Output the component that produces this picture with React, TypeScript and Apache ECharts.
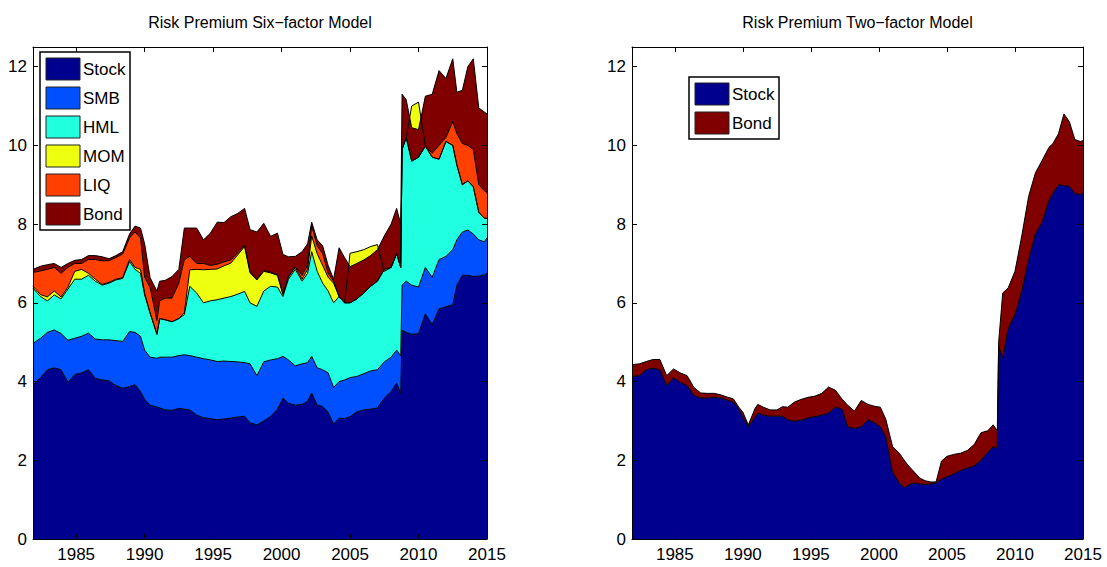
import React, { useEffect, useRef } from "react";
import * as echarts from "echarts";

// ---------- data ----------
const years = [
  1981.85, 1982.4, 1982.9, 1983.4, 1983.9, 1984.4, 1984.9, 1985.4, 1985.9, 1986.4,
  1986.9, 1987.4, 1987.9, 1988.4, 1988.9, 1989.3, 1989.7, 1990.0, 1990.4, 1990.9,
  1991.1, 1991.5, 1992.0, 1992.5, 1992.9, 1993.3, 1993.8, 1994.3, 1994.8, 1995.3,
  1995.8, 1996.3, 1996.8, 1997.3, 1997.7, 1998.2, 1998.7, 1999.2, 1999.7, 2000.1,
  2000.5, 2001.0, 2001.5, 2001.9, 2002.2, 2002.6, 2003.0, 2003.4, 2003.8, 2004.2,
  2004.6, 2005.0, 2005.5, 2006.0, 2006.5, 2007.0, 2007.5, 2008.0, 2008.4, 2008.7,
  2008.8, 2009.1, 2009.5, 2010.0, 2010.5, 2011.0, 2011.5, 2012.0, 2012.5, 2012.8,
  2013.2, 2013.6, 2014.0, 2014.4, 2014.8, 2015.0,
];

// Six-factor model contributions
const stock6 = [
  3.92, 4.1, 4.3, 4.35, 4.3, 3.98, 4.18, 4.22, 4.3, 4.08,
  4.04, 4.02, 3.9, 3.83, 3.87, 3.92, 3.75, 3.55, 3.4, 3.35,
  3.33, 3.28, 3.27, 3.32, 3.3, 3.28, 3.15, 3.08, 3.06, 3.03,
  3.05, 3.07, 3.1, 3.12, 2.95, 2.9, 3.0, 3.12, 3.3, 3.58,
  3.45, 3.4, 3.42, 3.5, 3.71, 3.4, 3.37, 3.22, 2.92, 3.07,
  3.06, 3.11, 3.23, 3.28, 3.3, 3.33, 3.58, 3.75, 3.96, 3.7,
  5.3, 5.25, 5.2, 5.22, 5.72, 5.45, 5.85, 5.9, 5.95, 6.45,
  6.7, 6.7, 6.67, 6.68, 6.71, 6.75,
];
const smb6 = [
  1.05, 1.0, 0.95, 0.96, 0.92, 1.07, 0.92, 0.93, 0.93, 1.0,
  1.02, 1.04, 1.14, 1.19, 1.4, 1.33, 1.4, 1.25, 1.22, 1.24,
  1.29, 1.34, 1.35, 1.34, 1.38, 1.38, 1.47, 1.5, 1.49, 1.48,
  1.47, 1.44, 1.4, 1.36, 1.5, 1.25, 1.5, 1.43, 1.28, 1.06,
  1.1, 1.0, 1.03, 0.98, 0.93, 0.95, 0.93, 1.0, 0.93, 0.93,
  0.98, 0.99, 0.9, 0.92, 0.97, 0.97, 0.92, 0.87, 0.84, 0.95,
  1.15, 1.3, 1.25, 1.18, 1.18, 1.2, 1.25, 1.28, 1.4, 1.15,
  1.1, 1.15, 1.08, 0.92, 0.84, 0.9,
];
const hml6 = [
  1.4, 1.06, 0.8, 0.89, 0.88, 1.3, 1.5, 1.45, 1.47, 1.47,
  1.39, 1.44, 1.54, 1.6, 1.78, 1.6, 1.6, 1.4, 1.12, 0.61,
  0.98, 0.95, 0.9, 0.94, 1.02, 1.76, 1.63, 1.42, 1.5, 1.57,
  1.6, 1.65, 1.72, 1.81, 1.55, 1.76, 1.8, 1.87, 1.82, 1.52,
  2.05, 2.45, 2.1, 2.27, 2.66, 2.45, 2.2, 2.08, 2.15, 2.16,
  1.96, 3.16, 3.17, 3.15, 3.16, 3.18, 2.3, 2.28, 2.45, 2.25,
  3.45, 3.65, 4.55, 4.7, 3.08, 3.05, 2.55, 2.92, 2.65, 1.9,
  1.2, 1.25, 1.2, 0.7, 0.6, 0.5,
];
const mom6 = [
  0.05, 0.05, 0.1, 0.1, 0.05, 0.05, 0.2, 0.25, 0.05, 0.05,
  0.02, 0.02, 0.02, 0.02, 0.05, 0.05, 0.1, 0.05, 0, 0,
  0, 0, 0, 0, 0.05, 0.42, 0.6, 0.84, 0.8, 0.78,
  0.82, 0.85, 1.0, 1.14, 0.76, 0.67, 0.5, 0.34, 0.3, 0.05,
  0.05, 0.05, 0.05, 0.1, 0.4, 0.45, 0.45, 0.35, 0.5, 0,
  0, -1.26, -1.2, -1.1, -1.01, -0.93, 0.05, 0, 0, 0,
  0, 0, -1.4, -1.4, 0, 0, 0, 0, 0, 0,
  0, 0, 0, 0, 0, 0,
];
const liq6 = [
  0.35, 0.6, 0.7, 0.6, 0.6, 0.5, 0.2, 0.15, 0.35, 0.5,
  0.6, 0.55, 0.55, 0.6, 0.55, 0.9, 0.8, 0.4, 0.65, 0.35,
  0.45, 0.55, 0.6, 0.9, 1.35, 0.34, 0.15, 0.16, 0.1, 0.12,
  0.1, 0.08, 0.05, 0.03, 0.03, 0.03, 0.02, 0.02, 0.02, 0.02,
  0.02, 0.02, 0.1, 0.1, 0.25, 0.2, 0.3, 0.1, 0.05, 0,
  0, 0, 0, 0, 0, 0, 0, 0, 0, 0,
  0, 0, 0, 0, 0, 0.1, 0.35, 0.1, 0.6, 0.8,
  1.05, 0.9, 0.95, 0.7, 0.7, 0.65,
];
const bond6 = [
  0.08, 0.12, 0.12, 0.1, 0.15, 0.1, 0.08, 0.1, 0.1, 0.1,
  0.1, 0.05, 0.05, 0.06, 0.1, 0.15, 0.25, 0.85, 0.25, 0.75,
  0.5, 0.45, 0.55, 0.35, 0.8, 0.72, 0.9, 0.6, 0.82, 1.07,
  1.0, 1.1, 1.0, 0.94, 1.07, 1.19, 1.2, 0.91, 1.05, 1.0,
  0.5, 0.26, 0.6, 0.55, 0.1, 0.15, 0.2, 0.2, 0.05, 1.24,
  1.15, 0.92, 0.9, 0.84, 0.78, 0.8, 0.85, 1.1, 1.15, 1.1,
  1.4, 0.96, 0.85, 0.7, 1.27, 1.5, 1.9, 1.5, 1.6, 1.05,
  1.35, 2.0, 2.3, 1.95, 2.0, 2.0,
];

// Two-factor model contributions
const stock2 = [
  4.13, 4.15, 4.3, 4.34, 4.3, 3.9, 4.1, 3.98, 3.9, 3.65,
  3.58, 3.58, 3.6, 3.58, 3.52, 3.48, 3.3, 3.1, 2.85, 3.1,
  3.2, 3.15, 3.12, 3.12, 3.12, 3.03, 2.99, 3.02, 3.08, 3.11,
  3.15, 3.2, 3.35, 3.3, 2.85, 2.81, 2.85, 3.03, 2.95, 2.85,
  2.6, 1.7, 1.42, 1.3, 1.38, 1.42, 1.4, 1.38, 1.4, 1.42,
  1.52, 1.58, 1.65, 1.74, 1.8, 1.86, 2.0, 2.2, 2.35, 2.3,
  4.9, 4.6, 5.35, 5.7, 6.3, 7.1, 7.75, 8.05, 8.6, 8.79,
  9.0, 8.98, 8.96, 8.78, 8.75, 8.8,
];
const bond2 = [
  0.3, 0.3, 0.21, 0.22, 0.26, 0.25, 0.22, 0.24, 0.25, 0.2,
  0.13, 0.12, 0.1, 0.08, 0.08, 0.08, 0.05, 0.12, 0.05, 0.22,
  0.22, 0.2, 0.16, 0.16, 0.24, 0.32, 0.49, 0.53, 0.52, 0.52,
  0.55, 0.66, 0.43, 0.25, 0.55, 0.44, 0.67, 0.39, 0.42, 0.5,
  0.45, 0.65, 0.76, 0.68, 0.47, 0.28, 0.15, 0.1, 0.05, 0.03,
  0.46, 0.52, 0.5, 0.44, 0.45, 0.54, 0.7, 0.55, 0.55, 0.45,
  0.1, 1.65, 1.03, 1.1, 1.4, 1.6, 1.55, 1.57, 1.35, 1.26,
  1.3, 1.82, 1.64, 1.37, 1.35, 1.32,
];

const xTicks = [1985, 1990, 1995, 2000, 2005, 2010, 2015];
const yTicks = [0, 2, 4, 6, 8, 10, 12];
const names6 = ["Stock", "SMB", "HML", "MOM", "LIQ", "Bond"];
const colors6 = ["#00008F", "#0050FF", "#20FFDF", "#EFFF10", "#FF4000", "#800000"];
const names2 = ["Stock", "Bond"];
const colors2 = ["#00008F", "#800000"];
const titles = ["Risk Premium Six\u2212factor Model", "Risk Premium Two\u2212factor Model"];

// ---------- layout / style ----------
const FONT = '"Liberation Sans", Arial, Helvetica, sans-serif';
const XMIN = 1981.85;
const XMAX = 2015;
const YMIN = 0;
const YMAX = 12.5;
const grids = [
  { left: 33, top: 47, width: 454, height: 492 },
  { left: 632, top: 47, width: 451, height: 492 },
];

function makeXAxes(gridIndex: number) {
  const common = {
    type: "value",
    gridIndex,
    min: XMIN,
    max: XMAX,
    z: 10,
    splitLine: { show: false },
    axisLine: { show: true, onZero: false, lineStyle: { color: "#000", width: 1 } },
    axisTick: { show: true, inside: true, length: 5, customValues: xTicks, lineStyle: { color: "#000", width: 1 } },
  };
  return [
    {
      ...common,
      position: "bottom",
      axisLabel: {
        show: true,
        customValues: xTicks,
        margin: 7,
        fontFamily: FONT,
        fontSize: 17,
        color: "#000",
        formatter: (v: number) => String(v),
      },
    },
    { ...common, position: "top", axisLabel: { show: false } },
  ];
}

function makeYAxes(gridIndex: number) {
  const common = {
    type: "value",
    gridIndex,
    min: YMIN,
    max: YMAX,
    z: 10,
    splitLine: { show: false },
    axisLine: { show: true, onZero: false, lineStyle: { color: "#000", width: 1 } },
    axisTick: { show: true, inside: true, length: 5, customValues: yTicks, lineStyle: { color: "#000", width: 1 } },
  };
  return [
    {
      ...common,
      position: "left",
      axisLabel: { show: true, customValues: yTicks, margin: 6, fontFamily: FONT, fontSize: 17, color: "#000" },
    },
    { ...common, position: "right", axisLabel: { show: false } },
  ];
}

// Data items are [value, year] so that the stacked dimension is the value (y),
// while the year is encoded on x.
function areaSeries(name: string, color: string, values: number[], axisIdx: number, stack: string) {
  return {
    type: "line",
    name,
    xAxisIndex: axisIdx * 2,
    yAxisIndex: axisIdx * 2,
    stack,
    stackStrategy: "all",
    encode: { x: 1, y: 0 },
    data: years.map((x, i) => [values[i], x]),
    symbol: "none",
    showSymbol: false,
    silent: true,
    lineStyle: { color: "#000", width: 1 },
    itemStyle: { color },
    areaStyle: { color, opacity: 1 },
    emphasis: { disabled: true },
  };
}

function legendGraphic(x: number, y: number, w: number, names: string[], colors: string[]) {
  const rowH = 29;
  const h = names.length * rowH + 4;
  const children: any[] = [
    { type: "rect", shape: { x, y, width: w, height: h }, style: { fill: "#fff", stroke: "#000", lineWidth: 1.5 } },
  ];
  names.forEach((n, i) => {
    const cy = y + 17 + i * rowH;
    children.push({
      type: "rect",
      shape: { x: x + 6, y: cy - 11, width: 34, height: 22 },
      style: { fill: colors[i], stroke: "#222", lineWidth: 1 },
    });
    children.push({
      type: "text",
      x: x + 43,
      y: cy,
      style: { text: n, fill: "#000", fontFamily: FONT, fontSize: 17, align: "left", verticalAlign: "middle" },
    });
  });
  return { type: "group", z: 100, children };
}

export default function App() {
  const ref = useRef<HTMLDivElement>(null);
  useEffect(() => {
    if (!ref.current) return;
    const chart = echarts.init(ref.current, undefined, { renderer: "svg" });
    const leftValues = [stock6, smb6, hml6, mom6, liq6, bond6];
    const rightValues = [stock2, bond2];
    const option: any = {
      animation: false,
      backgroundColor: "#fff",
      grid: grids.map((g) => ({ ...g, containLabel: false })),
      xAxis: [...makeXAxes(0), ...makeXAxes(1)],
      yAxis: [...makeYAxes(0), ...makeYAxes(1)],
      series: [
        ...leftValues.map((v, i) => areaSeries(names6[i], colors6[i], v, 0, "six")),
        ...rightValues.map((v, i) => areaSeries(names2[i], colors2[i], v, 1, "two")),
      ],
      graphic: [
        ...titles.map((t, i) => ({
          type: "text",
          x: grids[i].left + grids[i].width / 2,
          y: 22,
          z: 100,
          style: { text: t, fill: "#000", fontFamily: FONT, fontSize: 16, align: "center", verticalAlign: "middle" },
        })),
        legendGraphic(40, 52, 90, names6, colors6),
        legendGraphic(689, 77, 90, names2, colors2),
      ],
    };
    chart.setOption(option);
    return () => chart.dispose();
  }, []);
  return (
    <div
      ref={ref}
      style={{ position: "fixed", left: 0, top: 0, width: 1107, height: 567, background: "#fff" }}
    />
  );
}
